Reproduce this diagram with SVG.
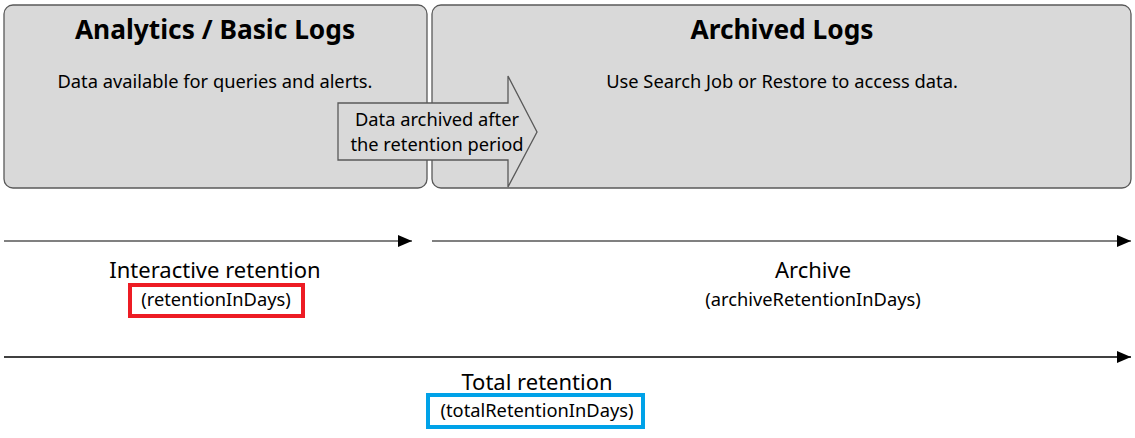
<svg xmlns="http://www.w3.org/2000/svg" width="1135" height="438" viewBox="0 0 1135 438">
<style>
text{font-family:"Noto Sans","Open Sans","Liberation Sans",sans-serif;fill:#000;text-anchor:middle}
.box{fill:#d9d9d9;stroke:#595959;stroke-width:1.3}
.title{font-size:26.3px;font-weight:bold}
.sub{font-size:18.3px}
.lbl{font-size:22px}
.tl{stroke:#808080;stroke-width:2;fill:none}
.tb{stroke:#000;stroke-width:1.5;fill:none}
</style>
<defs>
<marker id="ah" markerWidth="14" markerHeight="12" refX="14" refY="6" orient="auto" markerUnits="userSpaceOnUse">
<path d="M0,0 L14,6 L0,12 Z" fill="#000"/>
</marker>
</defs>
<g id="analytics">
<rect class="box" x="4" y="5" width="423" height="183" rx="9"/>
<text class="title" x="215" y="38.5">Analytics / Basic Logs</text>
<text class="sub" x="215" y="88">Data available for queries and alerts.</text>
</g>
<g id="archived">
<rect class="box" x="432" y="5" width="699" height="183" rx="9"/>
<text class="title" x="782" y="38.5">Archived Logs</text>
<text class="sub" x="782" y="88">Use Search Job or Restore to access data.</text>
</g>
<g id="archive-arrow">
<path class="box" d="M338,103 L508,103 L508,76 L537,132 L508,187 L508,160 L338,160 Z"/>
<text class="sub" x="437" y="126">Data archived after</text>
<text class="sub" x="437" y="151">the retention period</text>
</g>
<g id="connectors">
<line class="tl" x1="4" y1="241" x2="412" y2="241" marker-end="url(#ah)"/>
<line class="tl" x1="432" y1="241" x2="1131" y2="241" marker-end="url(#ah)"/>
<line class="tb" x1="4" y1="357" x2="1131" y2="357" marker-end="url(#ah)"/>
</g>
<g id="interactive">
<text class="lbl" x="215" y="278">Interactive retention</text>
<rect x="130" y="285" width="173" height="31" fill="none" stroke="#ed1c24" stroke-width="4"/>
<text class="sub" x="216" y="306">(retentionInDays)</text>
</g>
<g id="archive">
<text class="lbl" x="813" y="278">Archive</text>
<text class="sub" x="813" y="306">(archiveRetentionInDays)</text>
</g>
<g id="total">
<text class="lbl" x="537" y="390">Total retention</text>
<rect x="428" y="395" width="215" height="32" fill="none" stroke="#00a2e8" stroke-width="4"/>
<text class="sub" x="537" y="417">(totalRetentionInDays)</text>
</g>
</svg>
